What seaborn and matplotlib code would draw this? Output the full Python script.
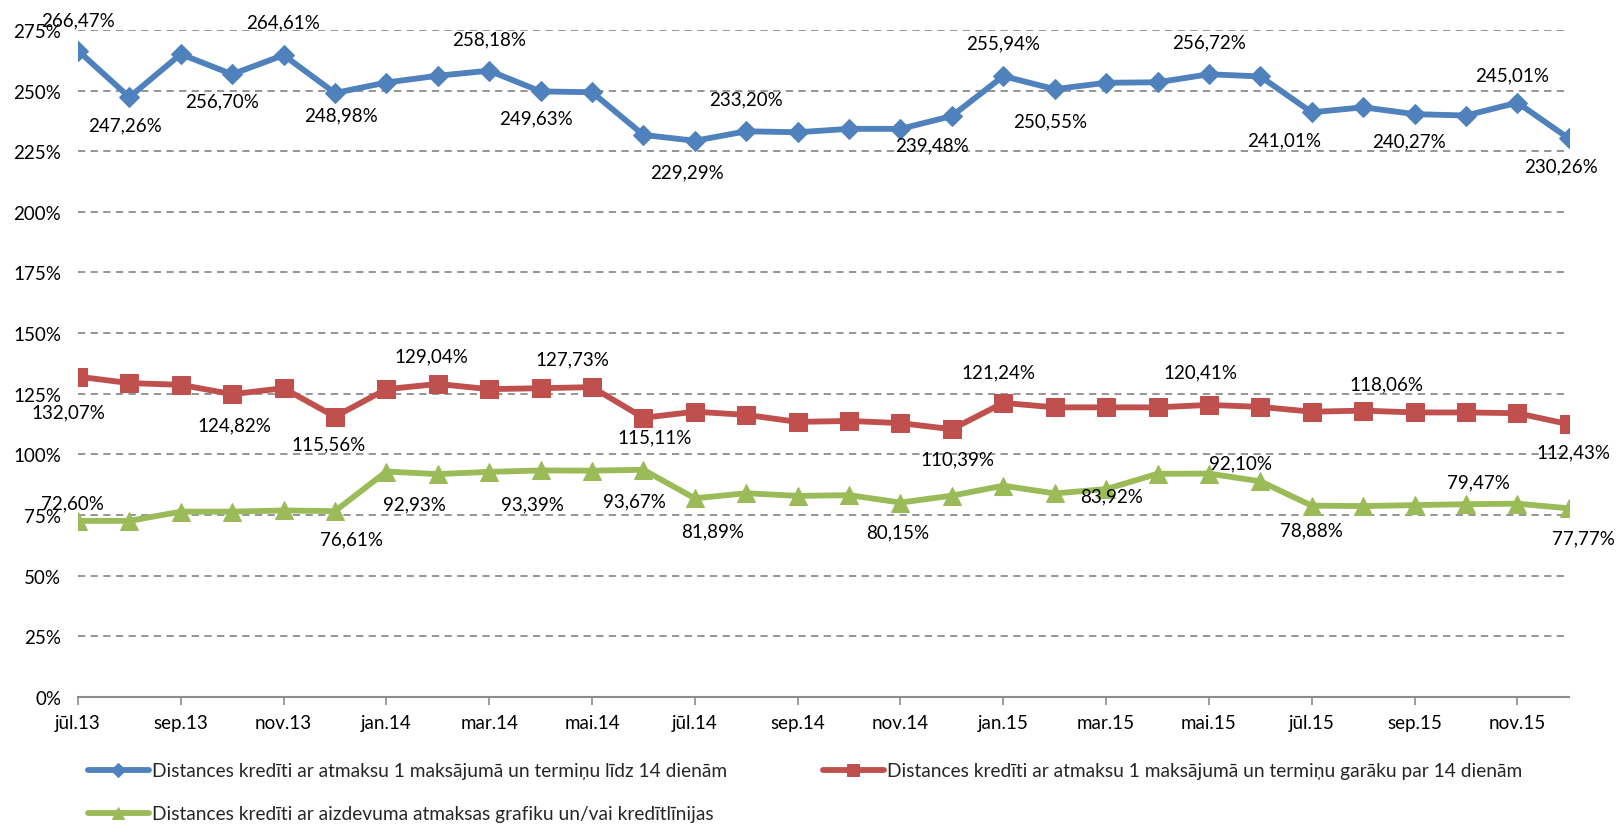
import pandas as pd
import matplotlib
matplotlib.use("Agg")
import matplotlib.pyplot as plt
import seaborn as sns

# monthly data, jūl.13 .. dec.15 (percent)
months = ["jūl.13", "aug.13", "sep.13", "okt.13", "nov.13", "dec.13",
          "jan.14", "feb.14", "mar.14", "apr.14", "mai.14", "jūn.14",
          "jūl.14", "aug.14", "sep.14", "okt.14", "nov.14", "dec.14",
          "jan.15", "feb.15", "mar.15", "apr.15", "mai.15", "jūn.15",
          "jūl.15", "aug.15", "sep.15", "okt.15", "nov.15", "dec.15"]

short_term = [266.47, 247.26, 265.0, 256.70, 264.61, 248.98, 253.3, 256.1, 258.18, 249.63,
              249.3, 231.7, 229.29, 233.20, 232.8, 234.2, 234.2, 239.48, 255.94, 250.55,
              253.2, 253.4, 256.72, 255.8, 241.01, 243.1, 240.27, 239.7, 245.01, 230.26]

long_term = [132.07, 129.4, 128.7, 124.82, 127.3, 115.56, 126.9, 129.04, 126.9, 127.3,
             127.73, 115.11, 117.6, 116.3, 113.4, 113.8, 112.9, 110.39, 121.24, 119.4,
             119.4, 119.4, 120.41, 119.6, 117.6, 118.06, 117.3, 117.3, 117.0, 112.43]

schedule = [72.60, 72.6, 76.4, 76.4, 76.9, 76.61, 92.93, 91.9, 92.8, 93.39,
            93.3, 93.67, 81.89, 84.0, 82.9, 83.2, 80.15, 83.0, 87.1, 83.92,
            85.7, 92.0, 92.10, 88.9, 78.88, 78.7, 79.1, 79.47, 79.7, 77.77]

series_names = ["Distances kredīti ar atmaksu 1 maksājumā un termiņu līdz 14 dienām",
                "Distances kredīti ar atmaksu 1 maksājumā un termiņu garāku par 14 dienām",
                "Distances kredīti ar aizdevuma atmaksas grafiku un/vai kredītlīnijas"]

tick_labels = ["jūl.13", "sep.13", "nov.13", "jan.14", "mar.14", "mai.14", "jūl.14", "sep.14",
               "nov.14", "jan.15", "mar.15", "mai.15", "jūl.15", "sep.15", "nov.15"]

# which points carry a value label: (series, point index, dx px, dy px down)
label_spots = [
    (0, 0, 0, -31), (0, 1, -4, 28), (0, 3, -10, 27), (0, 4, 0, -33), (0, 5, 6, 22),
    (0, 8, 0, -32), (0, 9, -5, 26), (0, 12, -8, 31), (0, 13, 0, -32), (0, 17, -20, 29),
    (0, 18, 0, -33), (0, 19, -5, 32), (0, 22, 0, -32), (0, 24, -28, 28), (0, 26, -6, 27),
    (0, 28, -5, -28), (0, 29, -8, 27),
    (1, 0, -10, 35), (1, 3, 2, 31), (1, 5, -6, 27), (1, 7, -6, -28), (1, 10, -20, -28),
    (1, 11, 11, 19), (1, 17, 6, 30), (1, 18, -5, -31), (1, 22, -8, -33), (1, 25, 23, -27),
    (1, 29, 5, 28),
    (2, 0, -5, -18), (2, 5, 17, 28), (2, 6, 28, 32), (2, 9, -8, 33), (2, 11, -9, 31),
    (2, 12, 18, 33), (2, 16, -3, 29), (2, 19, 57, 2), (2, 22, 32, -11), (2, 24, 0, 24),
    (2, 27, 12, -22), (2, 29, 15, 30),
]

colors = ["#4F81BD", "#C0504D", "#9BBB59"]
markers = ["D", "s", "^"]
msizes = [10.5, 13, 13]

values = [short_term, long_term, schedule]
df = pd.DataFrame({"idx": list(range(len(months))) * 3,
                   "month": months * 3,
                   "value": short_term + long_term + schedule,
                   "series": [n for n in series_names for _ in months]})

sns.set_style("white")
plt.rcParams["font.family"] = ["Lato", "DejaVu Sans"]

fig = plt.figure(figsize=(16.23, 8.28), dpi=100)
ax = fig.add_axes([0.048, 0.157, 0.9186, 0.8057])

for i, name in enumerate(series_names):
    sub = df[df["series"] == name]
    sns.lineplot(data=sub, x="idx", y="value", ax=ax, color=colors[i], marker=markers[i],
                 markersize=msizes[i], markeredgecolor=colors[i], linewidth=4.2,
                 label=name, zorder=3 + i)

for s, k, dx, dy in label_spots:
    v = values[s][k]
    txt = f"{v:.2f}".replace(".", ",") + "%"
    ax.annotate(txt, xy=(k, v), xytext=(dx, -dy), textcoords="offset pixels",
                ha="center", va="center", fontsize=13.5, color="black",
                annotation_clip=False, zorder=10)

ax.set_xlim(0, len(months) - 1)
ax.set_ylim(0, 275)
ax.set_yticks(range(0, 276, 25))
ax.set_yticklabels([f"{t}%" for t in range(0, 276, 25)])
ax.set_xticks(range(0, len(months), 2))
ax.set_xticklabels(tick_labels)
ax.set_xlabel("")
ax.set_ylabel("")

ax.yaxis.grid(True, linestyle=(0, (4, 3)), color="#8c8c8c", linewidth=1.3)
ax.xaxis.grid(False)
for side in ["left", "right", "top"]:
    ax.spines[side].set_visible(False)
ax.spines["bottom"].set_color("#8c8c8c")
ax.spines["bottom"].set_linewidth(1.5)
ax.tick_params(axis="y", length=0, pad=12, labelsize=13.5, colors="black")
ax.tick_params(axis="x", length=6, width=1.2, color="#8c8c8c", direction="out",
               pad=6, labelsize=13.5, labelcolor="black", bottom=True)

handles, labels = ax.get_legend_handles_labels()
ax.get_legend().remove()
fig.legend([handles[0], handles[2], handles[1]], [labels[0], labels[2], labels[1]],
           loc="upper left", bbox_to_anchor=(0.054, 0.078), ncol=2, frameon=False,
           fontsize=13.8, handlelength=3.2, handletextpad=0.15, columnspacing=5.0,
           labelspacing=1.35, markerscale=0.7, borderaxespad=0, borderpad=0)

fig.savefig("out.png", dpi=100)
